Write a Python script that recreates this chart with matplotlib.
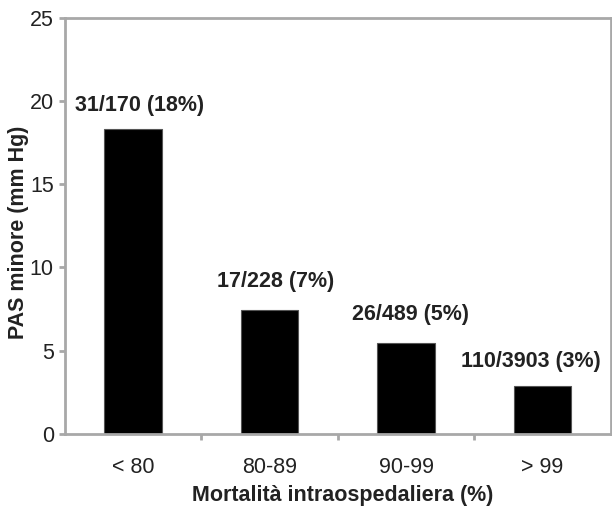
import matplotlib
matplotlib.use('Agg')
import matplotlib.pyplot as plt
import numpy as np

categories = ['< 80', '80-89', '90-99', '> 99']
pas_minore = [18.3, 7.45, 5.45, 2.85]
bar_labels = ['31/170 (18%)', '17/228 (7%)', '26/489 (5%)', '110/3903 (3%)']
yticks = [0, 5, 10, 15, 20, 25]

plt.rcParams['font.family'] = ['Liberation Sans', 'DejaVu Sans']
txt = '#222222'
grey = '#a8a8a8'
fs = 15.5

fig = plt.figure(figsize=(6.12, 5.08), dpi=100)
ax = fig.add_axes([0.106, 0.146, 0.892, 0.819])

x = np.arange(len(categories))
ax.bar(x, pas_minore, width=0.42, color='black', edgecolor='#555555', linewidth=0.8, zorder=2)

# label offsets in points (last one pushed left so it stays inside)
offsets = [(4.3, 13), (4, 16.5), (3, 16.5), (-8.3, 13.7)]
for xi, val, lab, off in zip(x, pas_minore, bar_labels, offsets):
    ax.annotate(lab, (xi, val), xytext=off, textcoords='offset points',
                ha='center', va='baseline', fontsize=fs, fontweight='bold', color=txt)

ax.set_xlim(-0.5, 3.5)
ax.set_ylim(0, 25)
ax.set_yticks(yticks)
ax.set_xticks(x)
ax.set_xticklabels(categories)
ax.set_xticks([0.5, 1.5, 2.5], minor=True)

for s in ax.spines.values():
    s.set_color(grey)
    s.set_linewidth(2)

ax.tick_params(axis='y', length=4, width=2, color=grey, labelsize=fs, labelcolor=txt, pad=4)
ax.tick_params(axis='x', which='major', length=0, labelsize=fs, labelcolor=txt, pad=17)
ax.tick_params(axis='x', which='minor', length=4, width=2, color=grey)

ax.set_xlabel('Mortalità intraospedaliera (%)', fontsize=fs, fontweight='bold', color=txt)
ax.xaxis.set_label_coords(0.508, -0.162)
ax.xaxis.label.set_va('baseline')
ax.set_ylabel('PAS minore (mm Hg)', fontsize=fs, fontweight='bold', color=txt)
ax.yaxis.set_label_coords(-0.066, 0.485)

fig.savefig('out.png', dpi=100)
